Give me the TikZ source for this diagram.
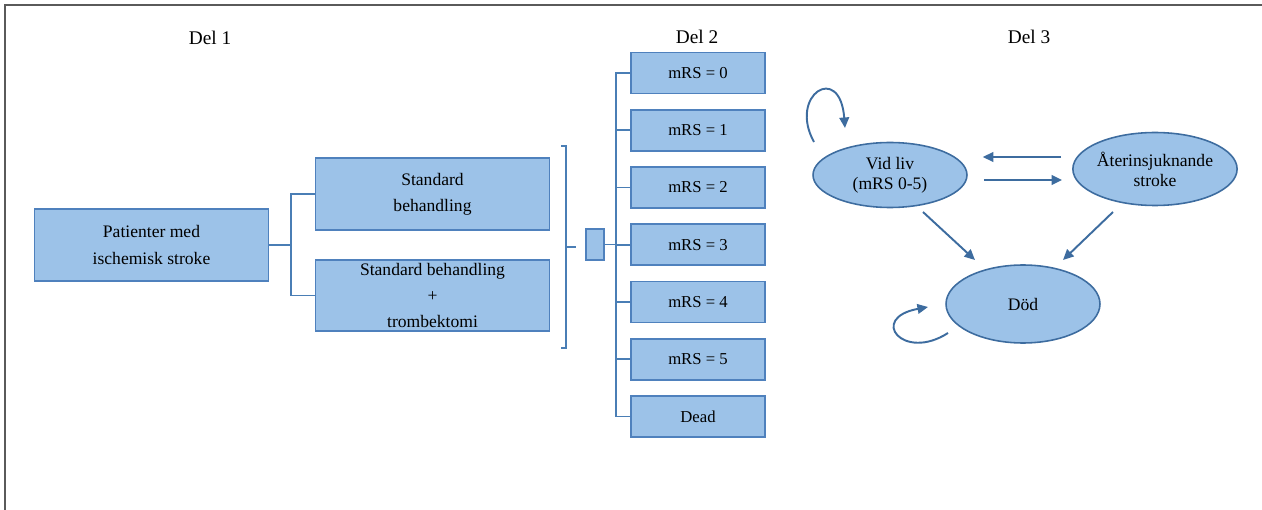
\documentclass[tikz,border=0pt]{standalone}
\usepackage{fontspec}
\setmainfont{Liberation Serif}
\usetikzlibrary{arrows.meta, calc, positioning, shapes.geometric}
\definecolor{boxfill}{HTML}{9CC2E8}
\definecolor{boxline}{HTML}{4F81BD}
\definecolor{linkcol}{HTML}{4A7EB5}
\definecolor{arrcol}{HTML}{3D6C9F}
\definecolor{framecol}{HTML}{5A5A5A}

\begin{document}
\begin{tikzpicture}[x=0.02cm, y=-0.02cm,
            box/.style={draw=boxline, fill=boxfill, line width=0.9pt, inner sep=0pt,
                minimum width=4.68cm, minimum height=1.43cm, align=center,
                font=\fontsize{10}{15}\selectfont},
            mbox/.style={box, minimum width=2.68cm, minimum height=0.82cm,
                font=\fontsize{9.5}{11}\selectfont},
            state/.style={ellipse, draw=arrcol, fill=boxfill, line width=0.9pt, inner sep=0pt,
                minimum width=3.08cm, align=center, font=\fontsize{10}{11.5}\selectfont},
            link/.style={draw=linkcol, line width=0.9pt},
            arr/.style={draw=arrcol, line width=1.1pt, -{Triangle[length=6pt, width=5.5pt]}},
            part/.style={font=\fontsize{11}{13}\selectfont}]
        \useasboundingbox (0,0) rectangle (1262,510);
        \draw[framecol, line width=1.2pt] (4,5) -- (1262,5);
        \draw[framecol, line width=1.2pt] (5,5) -- (5,510);

        % part titles
        \node[part] (del1) at (210,38) {Del 1};
        \node[part] (del2) at (697,37) {Del 2};
        \node[part] (del3) at (1029,37) {Del 3};

        % Del 1
        \node[box] (pat) at (151.5,245) {Patienter med\\ischemisk stroke};
        \node[box] (std) at (432.5,194) {Standard\\behandling};
        \node[box] (trb) at (432.5,295.5) {Standard behandling\\+\\trombektomi};
        \draw[link] (pat.east) -- ++(22,0) |- (std.west);
        \draw[link] (pat.east) -- ++(22,0) |- (trb.west);

        \coordinate (brtop) at (561,146);
        \coordinate (brbot) at (561,348);
        \draw[link] (brtop) -- ++(5,0) -- ($(brbot)+(5,0)$) -- (brbot);
        \coordinate (brmid) at (566,247);
        \draw[link] (brmid) -- ++(10,0);

        % Del 2
        \node[box, minimum width=0.36cm, minimum height=0.62cm] (sm) at (595,244.5) {};
        \foreach \t [count=\i from 0] in {mRS = 0, mRS = 1, mRS = 2, mRS = 3, mRS = 4, mRS = 5, Dead}
            \node[mbox] (m\i) at (698,{73+57.25*\i}) {\t};
        \draw[link] (sm.east) -- (sm.east -| m3.west);
        \draw[link] (m0.west) -- ++(-14,0) |- (m6.west);
        \foreach \i in {1,...,5}
            \draw[link] (m\i.west) -- ++(-14,0);

        % Del 3
        \node[state, minimum height=1.3cm] (vid) at (890,175) {Vid liv\\(mRS 0-5)};
        \node[state, minimum height=1.46cm] (ater) at (1155,169) {Återinsjuknande\\stroke};
        \node[state, minimum height=1.56cm] (dod) at (1023,304) {Död};
        \draw[arr] ($(ater.west)+(-11,-12)$) -- ($(vid.east)+(15,-18)$);
        \draw[arr] ($(vid.east)+(16,5)$) -- ($(ater.west)+(-10,11)$);
        \draw[arr] ($(vid.center)+(33,37)$) -- ($(dod.center)+(-48,-44)$);
        \draw[arr] ($(ater.center)+(-42,43)$) -- ($(dod.center)+(40,-44)$);
        \draw[arr] ($(vid.center)+(-76,-33)$) .. controls (788,95) and (840,62) .. ($(vid.center)+(-45,-47)$);
        \draw[arr] ($(dod.center)+(-75,29)$) .. controls (903,362) and (868,318) .. ($(dod.center)+(-95,3)$);
\end{tikzpicture}
\end{document}
